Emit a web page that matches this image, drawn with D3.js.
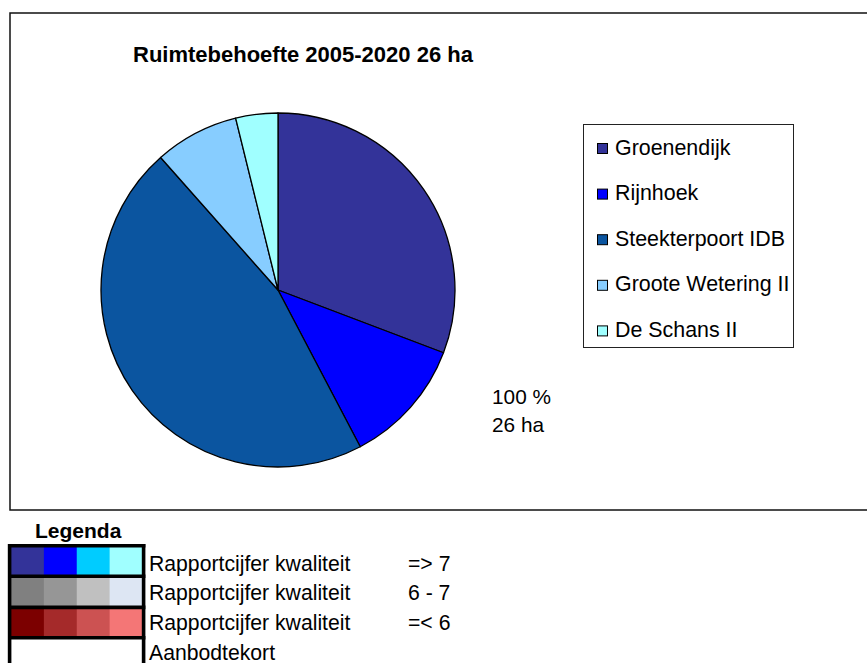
<!DOCTYPE html>
<html>
<head>
<meta charset="utf-8">
<script src="https://cdn.jsdelivr.net/npm/d3@7"></script>
<style>
  html, body { margin: 0; padding: 0; background: #fff; }
  svg { display: block; }
  text { font-family: "Liberation Sans", Arial, sans-serif; fill: #000; }
</style>
</head>
<body>
<svg id="chart" width="867" height="663"></svg>
<script>
// ---- data ----
const title = "Ruimtebehoefte 2005-2020 26 ha";
const categories = ["Groenendijk", "Rijnhoek", "Steekterpoort IDB", "Groote Wetering II", "De Schans II"];
const values = [8, 3, 12, 2, 1];
const sliceColors = ["#333399", "#0000ff", "#0b55a0", "#87cdff", "#a0ffff"];
const totalLabels = ["100 %", "26 ha"];

const legendTitle = "Legenda";
const legendRowLabels = ["Rapportcijfer kwaliteit", "Rapportcijfer kwaliteit", "Rapportcijfer kwaliteit", "Aanbodtekort"];
const legendRowRanges = ["=> 7", "6 - 7", "=< 6", ""];
const legendRowColors = [
  ["#333399", "#0000ff", "#00ccff", "#a0ffff"],
  ["#808080", "#969696", "#c0c0c0", "#dde6f3"],
  ["#7c0000", "#a52a2a", "#cc5252", "#f47676"],
  ["#ffffff", "#ffffff", "#ffffff", "#ffffff"]
];

// ---- drawing ----
const svg = d3.select("#chart");

// chart frame
svg.append("rect")
  .attr("x", 10).attr("y", 13).attr("width", 870).attr("height", 497)
  .attr("fill", "#fff").attr("stroke", "#111").attr("stroke-width", 1.5);

// title
svg.append("text")
  .attr("x", 133).attr("y", 62)
  .attr("font-size", 22).attr("font-weight", "bold")
  .text(title);

// pie
const cx = 278, cy = 290, r = 177;
const pie = d3.pie().sort(null).value(d => d)(values);
const arc = d3.arc().innerRadius(0).outerRadius(r);
const color = d3.scaleOrdinal().domain(categories).range(sliceColors);

svg.append("g")
  .attr("transform", `translate(${cx},${cy})`)
  .selectAll("path")
  .data(pie)
  .join("path")
  .attr("d", arc)
  .attr("fill", (d, i) => color(categories[i]))
  .attr("stroke", "#000")
  .attr("stroke-width", 1.3)
  .attr("stroke-linejoin", "round");

// total labels
svg.selectAll("text.total")
  .data(totalLabels)
  .join("text")
  .attr("class", "total")
  .attr("x", 492)
  .attr("y", (d, i) => 404 + i * 27.5)
  .attr("font-size", 20.8)
  .text(d => d);

// series legend
svg.append("rect")
  .attr("x", 583.5).attr("y", 124.5).attr("width", 210).attr("height", 223)
  .attr("fill", "#fff").attr("stroke", "#222").attr("stroke-width", 1);

const lg = svg.append("g").selectAll("g")
  .data(categories)
  .join("g")
  .attr("transform", (d, i) => `translate(0, ${154.5 + i * 45.6})`);
lg.append("rect")
  .attr("x", 597.5).attr("y", -11).attr("width", 10).attr("height", 10)
  .attr("fill", d => color(d)).attr("stroke", "#000").attr("stroke-width", 1);
lg.append("text")
  .attr("x", 615).attr("y", 0)
  .attr("font-size", 21.4)
  .text(d => d);

// bottom legend
svg.append("text")
  .attr("x", 35).attr("y", 538)
  .attr("font-size", 21).attr("font-weight", "bold")
  .text(legendTitle);

const colX = d3.scaleBand().domain(d3.range(4)).range([11, 142.5]);
const rowTops = [546, 576.5, 607.5, 638];
const rowH = [30.5, 31, 30.5, 30];

const rows = svg.append("g").selectAll("g")
  .data(legendRowColors)
  .join("g");
rows.each(function(rowColors, ri) {
  d3.select(this).selectAll("rect")
    .data(rowColors)
    .join("rect")
    .attr("x", (d, ci) => colX(ci))
    .attr("y", rowTops[ri])
    .attr("width", colX.bandwidth() + 0.5)
    .attr("height", rowH[ri])
    .attr("fill", d => d);
});
// thick borders
const borderG = svg.append("g").attr("stroke", "#000").attr("stroke-width", 3.6).attr("fill", "none");
borderG.append("line").attr("x1", 9.6).attr("x2", 9.6).attr("y1", 544).attr("y2", 670);
borderG.append("line").attr("x1", 143.6).attr("x2", 143.6).attr("y1", 544).attr("y2", 670);
[545.8, 576.2, 607.4, 637.8].forEach(y => {
  borderG.append("line").attr("x1", 8).attr("x2", 145.4).attr("y1", y).attr("y2", y);
});

svg.selectAll("text.lrow")
  .data(legendRowLabels)
  .join("text")
  .attr("class", "lrow")
  .attr("x", 149)
  .attr("y", (d, i) => 570.5 + i * 29.8)
  .attr("font-size", 21.2)
  .text(d => d);
svg.selectAll("text.lrange")
  .data(legendRowRanges)
  .join("text")
  .attr("class", "lrange")
  .attr("x", 408)
  .attr("y", (d, i) => 570.5 + i * 29.8)
  .attr("font-size", 21.2)
  .text(d => d);
</script>
</body>
</html>
